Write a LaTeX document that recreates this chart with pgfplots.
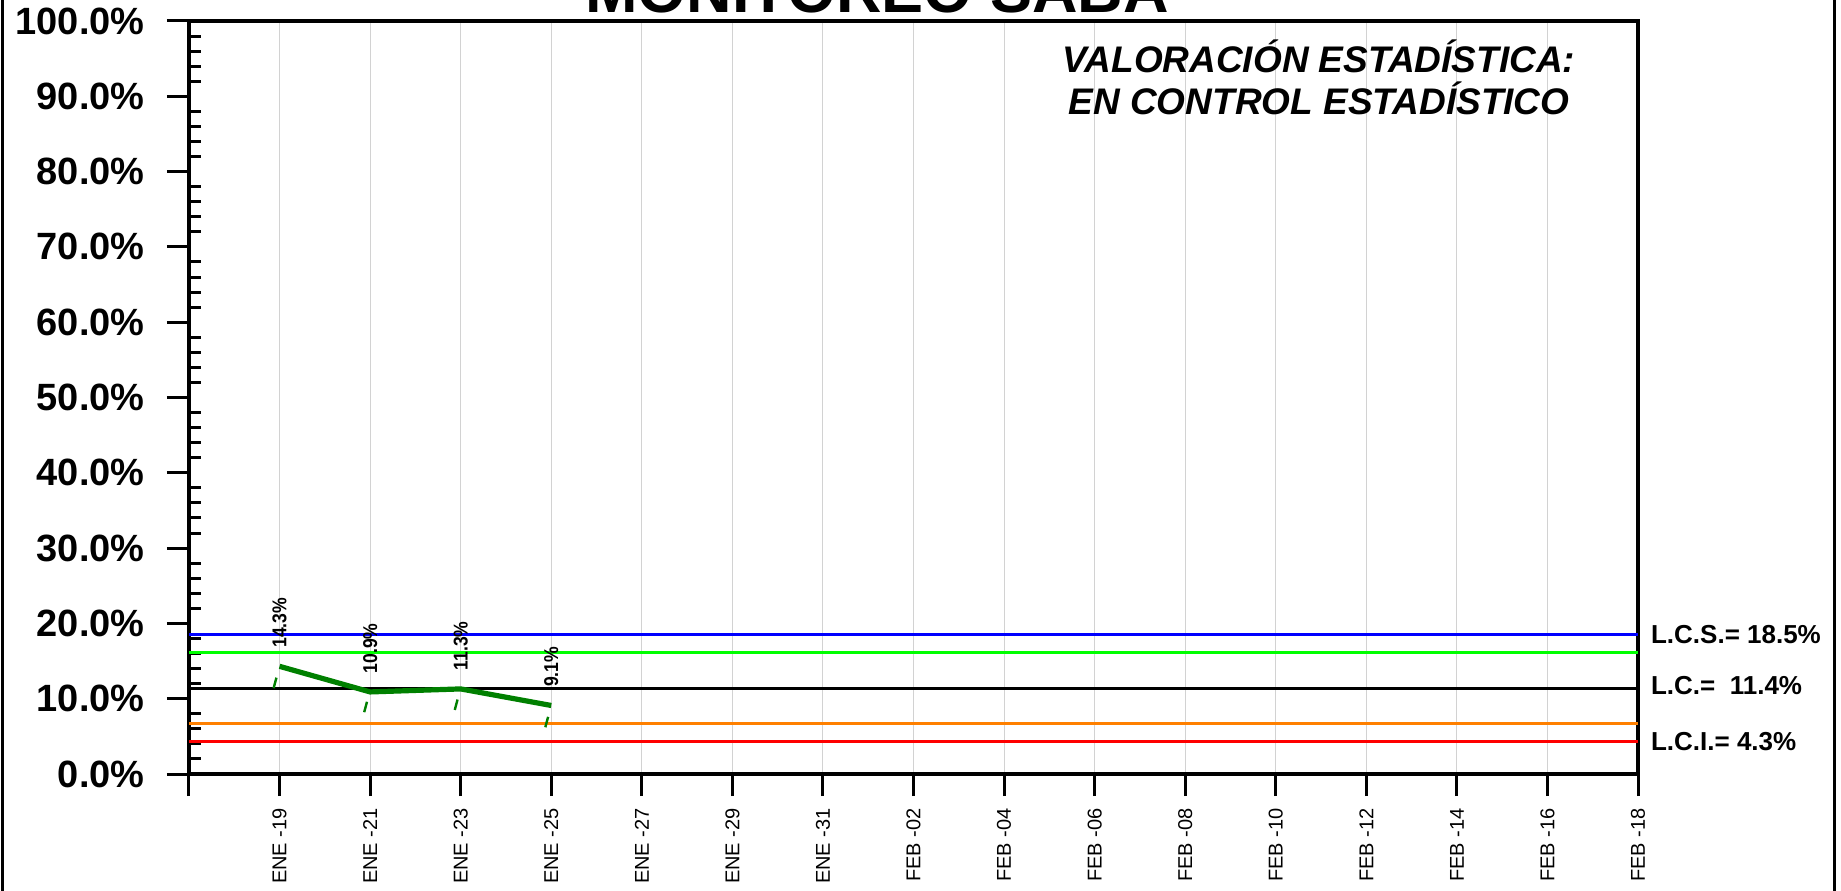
\documentclass[border=0pt]{standalone}
\usepackage{fontspec}
\setmainfont{Liberation Sans}
\newfontfamily\narrowfont[FakeStretch=0.88]{Liberation Sans}
\usepackage{pgfplots}
\pgfplotsset{compat=1.18}
\definecolor{lcs}{RGB}{0,0,255}
\definecolor{sup}{RGB}{0,255,0}
\definecolor{inf}{RGB}{255,128,0}
\definecolor{lci}{RGB}{255,0,0}
\definecolor{serie}{RGB}{0,128,0}
\begin{document}
\begin{tikzpicture}
% image frame: 1841x890 px at 0.5pt per px, origin at the axis' lower left corner
\path[use as bounding box] (-94.5pt,-58pt) rectangle (826pt,387pt);
\draw[line width=1.5pt] (-93pt,-60pt) -- (-93pt,390pt);
\draw[line width=1.5pt] (822.5pt,-60pt) -- (822.5pt,390pt);
\begin{axis}[
  at={(0,0)}, anchor=south west, scale only axis,
  width=724.5pt, height=376.5pt,
  xmin=17, xmax=49, ymin=0, ymax=100,
  clip=false,
  axis line style={line width=1.6pt},
  tick pos=left, tick align=outside,
  major tick length=11pt, minor tick length=6pt,
  every tick/.style={black, line width=1.5pt},
  minor y tick style={xshift=6pt},
  xtick={17,19,...,49},
  xticklabels={,ENE -19,ENE -21,ENE -23,ENE -25,ENE -27,ENE -29,ENE -31,FEB -02,FEB -04,FEB -06,FEB -08,FEB -10,FEB -12,FEB -14,FEB -16,FEB -18},
  ytick={0,10,...,100},
  minor y tick num=4,
  yticklabel={\pgfmathprintnumber[fixed,fixed zerofill,precision=1]{\tick}\%},
  /pgf/number format/assume math mode=true,
  yticklabel style={font=\fontsize{19}{19}\selectfont\bfseries, inner sep=0pt},
  xticklabel style={font=\fontsize{10}{10}\selectfont, rotate=90, anchor=east, inner sep=0pt},
  xticklabel shift=6pt, yticklabel shift=11pt,
  xmajorgrids, major x grid style={gray!35, line width=0.5pt},
]
% control limits
\addplot[lcs, line width=1.4pt] coordinates {(17,18.5) (49,18.5)};
\addplot[sup, line width=1.4pt] coordinates {(17,16.1) (49,16.1)};
\addplot[black, line width=1.4pt] coordinates {(17,11.4) (49,11.4)};
\addplot[inf, line width=1.4pt] coordinates {(17,6.7) (49,6.7)};
\addplot[lci, line width=1.4pt] coordinates {(17,4.3) (49,4.3)};

% small marks under the points
\addplot[only marks, serie, mark=|, mark size=2.7pt, mark options={rotate=-15, line width=1.2pt}]
  coordinates {(18.9,12.1) (20.9,8.9) (22.9,9.2) (24.9,6.9)};

% series
\addplot[serie, line width=2.6pt, mark=none,
  nodes near coords, point meta=explicit symbolic,
  every node near coord/.append style={black, rotate=90, anchor=west, inner sep=8pt,
    font=\narrowfont\fontsize{10}{10}\selectfont\bfseries}]
  coordinates {(19,14.3) [14.3\%] (21,10.9) [10.9\%] (23,11.3) [11.3\%] (25,9.1) [9.1\%]};

\node[anchor=west, xshift=3pt, font=\fontsize{13}{13}\selectfont\bfseries] at (axis cs:49,18.5) {L.C.S.= 18.5\%};
\node[anchor=west, xshift=3pt, yshift=1.5pt, font=\fontsize{13}{13}\selectfont\bfseries] at (axis cs:49,11.4) {L.C.=\ \ 11.4\%};
\node[anchor=west, xshift=3pt, font=\fontsize{13}{13}\selectfont\bfseries] at (axis cs:49,4.3) {L.C.I.= 4.3\%};
\end{axis}
\node[anchor=base, font=\fontsize{31.5}{31}\selectfont\bfseries] at (344pt,380.5pt) {MONITOREO SABA};
\node[anchor=base, font=\fontsize{18.5}{18}\selectfont\bfseries\itshape] at (565pt,350.5pt) {VALORACIÓN ESTADÍSTICA:};
\node[anchor=base, font=\fontsize{18.5}{18}\selectfont\bfseries\itshape] at (565pt,329.5pt) {EN CONTROL ESTADÍSTICO};
\end{tikzpicture}
\end{document}
